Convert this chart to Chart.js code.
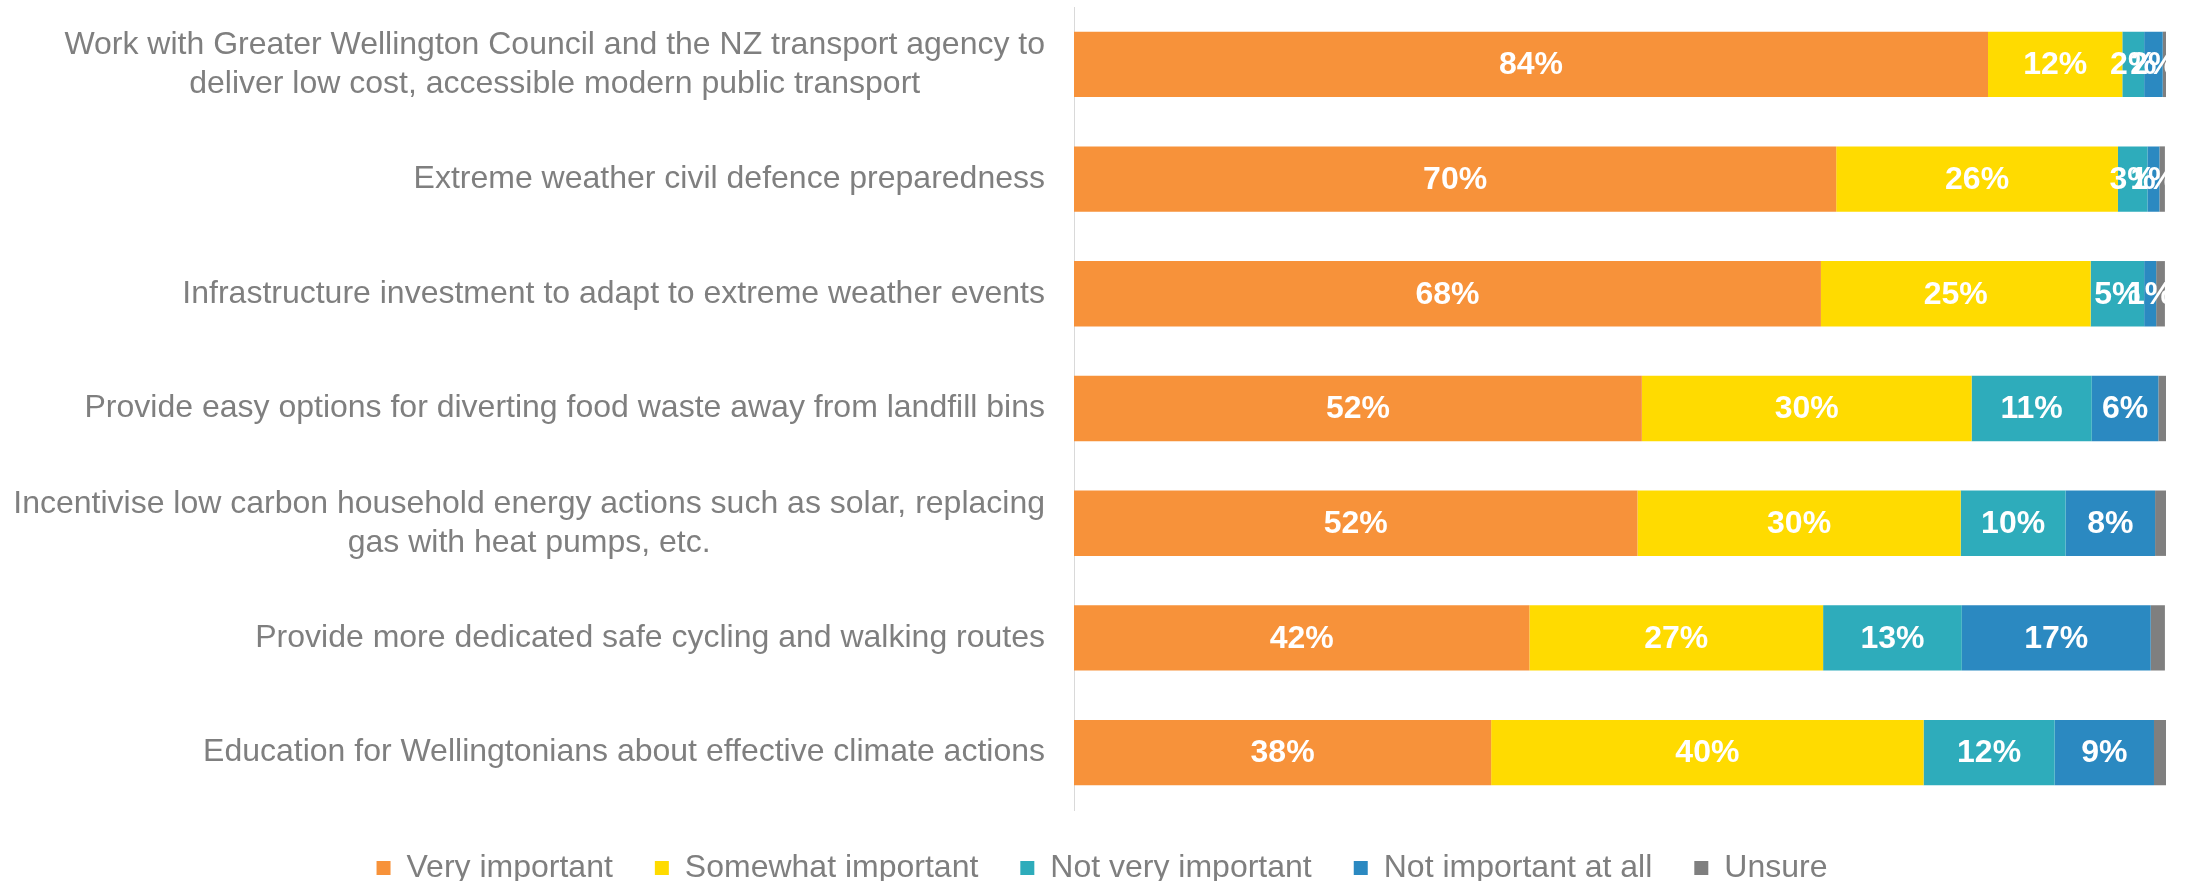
<!DOCTYPE html>
<html>
<head>
<meta charset="utf-8">
<script src="https://cdn.jsdelivr.net/npm/chart.js@4.4.1/dist/chart.umd.min.js"></script>
<style>
    html, body { margin: 0; padding: 0; background: #ffffff; }
    #wrap { width: 2185px; height: 881px; }
</style>
</head>
<body>
<div id="wrap"><canvas id="chart"></canvas></div>
<script>
const categories = [
    ['Work with Greater Wellington Council and the NZ transport agency to', 'deliver low cost, accessible modern public transport'],
    'Extreme weather civil defence preparedness',
    'Infrastructure investment to adapt to extreme weather events',
    'Provide easy options for diverting food waste away from landfill bins',
    ['Incentivise low carbon household energy actions such as solar, replacing', 'gas with heat pumps, etc.'],
    'Provide more dedicated safe cycling and walking routes',
    'Education for Wellingtonians about effective climate actions'
];

const veryImportant = [83.7, 69.8, 68.4, 52.0, 51.6, 41.7, 38.2];
const somewhatImportant = [12.3, 25.8, 24.7, 30.2, 29.6, 26.9, 39.6];
const notVeryImportant = [2.0, 2.7, 4.9, 11.0, 9.6, 12.7, 12.0];
const notImportantAtAll = [1.7, 1.1, 1.1, 6.1, 8.2, 17.3, 9.1];
const unsure = [0.3, 0.5, 0.8, 0.7, 1.0, 1.3, 1.1];

const FONT = '"Liberation Sans", Arial, sans-serif';

// white % labels in the middle of each segment (not for Unsure)
const segmentLabels = {
    id: 'segmentLabels',
    afterDatasetsDraw(chart) {
        const ctx = chart.ctx;
        ctx.save();
        ctx.font = 'bold 32px ' + FONT;
        ctx.fillStyle = '#ffffff';
        ctx.textAlign = 'center';
        ctx.textBaseline = 'middle';
        chart.data.datasets.forEach((ds, i) => {
            if (!ds.showLabels) return;
            chart.getDatasetMeta(i).data.forEach((bar, j) => {
                const x = (bar.x + bar.base) / 2;
                ctx.fillText(Math.round(ds.data[j]) + '%', x, bar.y + 1);
            });
        });
        ctx.restore();
    }
};

// category labels: block right-aligned, lines centred inside the block
const categoryLabels = {
    id: 'categoryLabels',
    afterDraw(chart) {
        const scale = chart.scales.y;
        const ctx = chart.ctx;
        ctx.save();
        ctx.font = '32px ' + FONT;
        ctx.fillStyle = '#7f7f7f';
        ctx.textAlign = 'center';
        ctx.textBaseline = 'middle';
        const right = scale.right - 29;
        categories.forEach((label, i) => {
            const lines = Array.isArray(label) ? label : [label];
            const w = Math.max(...lines.map(l => ctx.measureText(l).width));
            const cx = right - w / 2;
            const yc = scale.getPixelForValue(i);
            lines.forEach((l, k) => {
                ctx.fillText(l, cx, yc + (k - (lines.length - 1) / 2) * 39);
            });
        });
        ctx.restore();
    }
};

const ctx = document.getElementById('chart').getContext('2d');

new Chart(ctx, {
    type: 'bar',
    data: {
        labels: categories,
        datasets: [
            { label: 'Very important', data: veryImportant, backgroundColor: '#f7923a', showLabels: true },
            { label: 'Somewhat important', data: somewhatImportant, backgroundColor: '#ffdb00', showLabels: true },
            { label: 'Not very important', data: notVeryImportant, backgroundColor: '#2eacbb', showLabels: true },
            { label: 'Not important at all', data: notImportantAtAll, backgroundColor: '#2b89c1', showLabels: true },
            { label: 'Unsure', data: unsure, backgroundColor: '#7f7f7f', showLabels: false }
        ]
    },
    options: {
        indexAxis: 'y',
        responsive: true,
        maintainAspectRatio: false,
        animation: false,
        layout: {
            padding: { top: 7, right: 19, bottom: 0, left: 38 }
        },
        datasets: {
            bar: {
                categoryPercentage: 1,
                barPercentage: 0.57,
                borderWidth: 0
            }
        },
        plugins: {
            legend: {
                position: 'bottom',
                maxHeight: 71,
                labels: {
                    color: '#7f7f7f',
                    font: { family: FONT, size: 32 },
                    boxWidth: 14,
                    boxHeight: 14,
                    padding: 42
                }
            },
            tooltip: { enabled: false }
        },
        scales: {
            x: {
                stacked: true,
                min: 0,
                max: 100,
                display: false
            },
            y: {
                stacked: true,
                grid: { display: false },
                border: { display: true, color: '#d9d9d9', width: 1 },
                ticks: { display: false },
                afterFit: function (scale) {
                    scale.width = 1036;
                }
            }
        }
    },
    plugins: [segmentLabels, categoryLabels]
});
</script>
</body>
</html>
